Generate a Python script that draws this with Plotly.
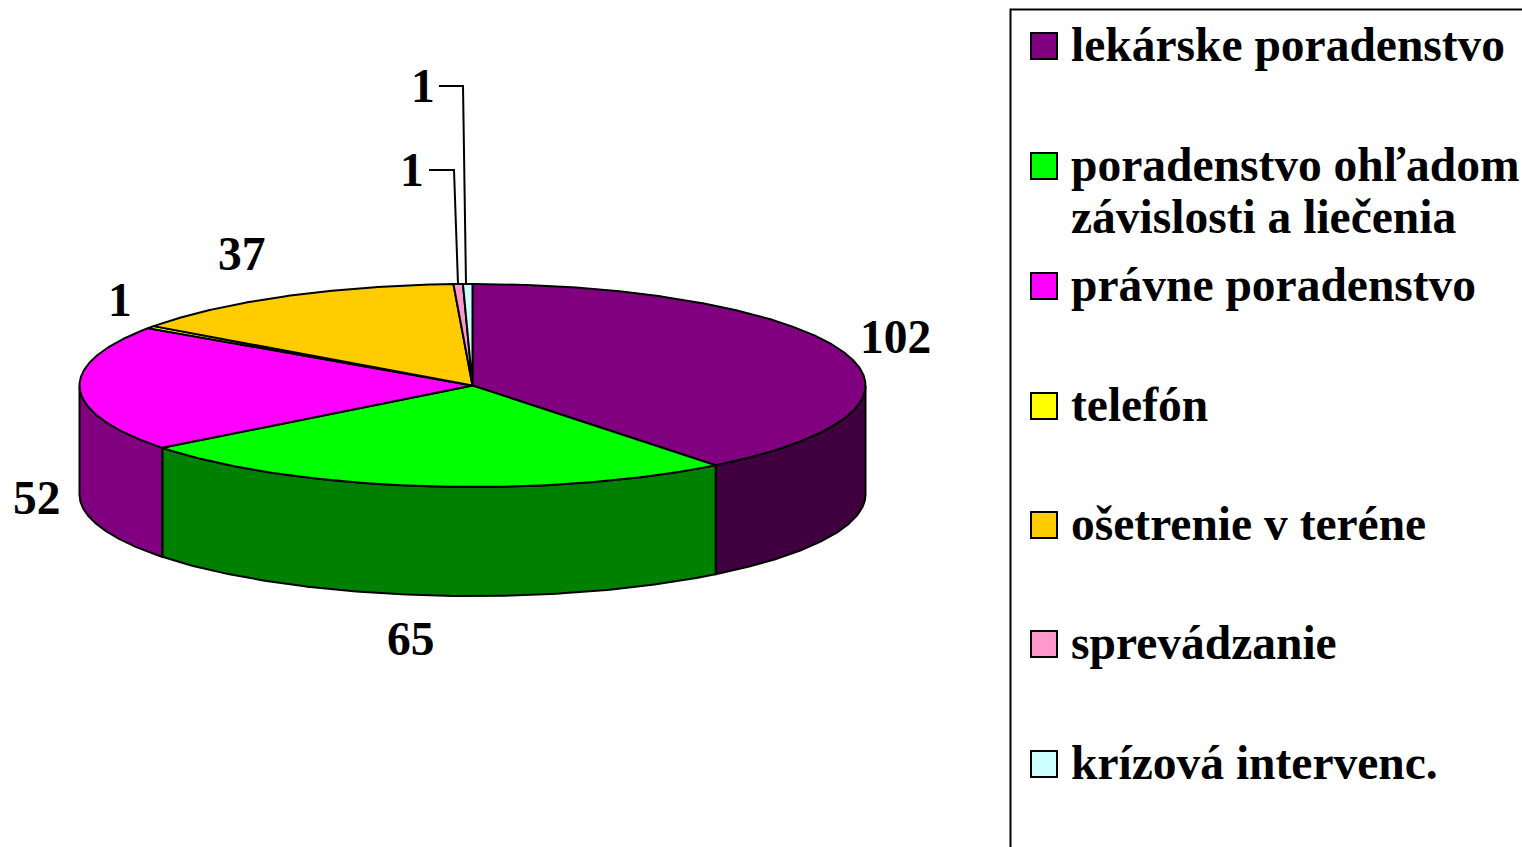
import numpy as np
import plotly.graph_objects as go

# Data
categories = ["lekárske poradenstvo", "poradenstvo ohľadom<br>závislosti a liečenia", "právne poradenstvo",
              "telefón", "ošetrenie v teréne", "sprevádzanie", "krízová intervenc."]
values = [102, 65, 52, 1, 37, 1, 1]
top_colors = ["#800080", "#00FF00", "#FF00FF", "#FFFF00", "#FFCC00", "#FF99CC", "#CCFFFF"]
side_colors = ["#400040", "#008000", "#800080", "#808000", "#806600", "#804D66", "#668080"]

# Layout geometry of the pseudo-3D disc (pixel-valued axes)
CX, CY, RX, RY, DEPTH = 472.5, 385.5, 393, 101.5, 109
FONT = "Liberation Serif"
FS = 47.5
LW = 2

def ex(a):
    return CX + RX * np.sin(a)

def ey(a):
    return CY - RY * np.cos(a)

fig = go.Figure()
fractions = np.cumsum([0] + values) / sum(values)
angles = fractions * 2 * np.pi

# Side walls of the visible (front) half
for i, v in enumerate(values):
    a0, a1 = max(angles[i], np.pi / 2), min(angles[i + 1], 3 * np.pi / 2)
    if a1 <= a0:
        continue
    t = np.linspace(a0, a1, 120)
    xs = list(ex(t)) + list(ex(t[::-1])) + [ex(t[0])]
    ys = list(ey(t)) + list(ey(t[::-1]) + DEPTH) + [ey(t[0])]
    fig.add_trace(go.Scatter(x=xs, y=ys, mode="lines", fill="toself", fillcolor=side_colors[i],
                             line=dict(color="black", width=LW), hoverinfo="skip", showlegend=False))

# Top slices
for i, v in enumerate(values):
    t = np.linspace(angles[i], angles[i + 1], max(4, int(v * 4)))
    xs = [CX] + list(ex(t)) + [CX]
    ys = [CY] + list(ey(t)) + [CY]
    fig.add_trace(go.Scatter(x=xs, y=ys, mode="lines", fill="toself", fillcolor=top_colors[i],
                             line=dict(color="black", width=LW), hoverinfo="skip", showlegend=False))

# Leader lines
leader_x = [[429, 454, 458], [439, 463, 466]]
leader_y = [[170, 170, 284], [86, 86, 284]]
for lx, ly in zip(leader_x, leader_y):
    fig.add_trace(go.Scatter(x=lx, y=ly, mode="lines", line=dict(color="black", width=LW),
                             hoverinfo="skip", showlegend=False))

# Value labels
label_x = [895, 410.5, 37, 120, 242, 412, 423]
label_y = [337, 639, 498, 300, 254, 170, 86]
annotations = []
for v, x, y in zip(values, label_x, label_y):
    annotations.append(dict(x=x, y=y, xref="x", yref="y", text=f"<b>{v}</b>", showarrow=False,
                            xanchor="center", yanchor="middle",
                            font=dict(family=FONT, size=FS, color="black")))

# Legend
legend_y = [46, 166, 286, 406, 525, 644, 764]
shapes = [dict(type="rect", xref="x", yref="y", x0=1010.5, x1=1540, y0=9.5, y1=870,
               line=dict(color="black", width=2), fillcolor="rgba(0,0,0,0)")]
for name, col, y in zip(categories, top_colors, legend_y):
    shapes.append(dict(type="rect", xref="x", yref="y", x0=1031, x1=1057, y0=y - 13, y1=y + 13,
                       line=dict(color="black", width=2), fillcolor=col))
    for k, line in enumerate(name.split("<br>")):
        annotations.append(dict(x=1070, y=y - 1 + k * 52, xref="x", yref="y", text=f"<b>{line}</b>",
                                showarrow=False, xanchor="left", yanchor="middle", align="left",
                                borderpad=0,
                                font=dict(family=FONT, size=FS, color="black")))

fig.update_layout(
    width=1522, height=847, margin=dict(l=0, r=0, t=0, b=0),
    paper_bgcolor="white", plot_bgcolor="white", showlegend=False,
    xaxis=dict(range=[0, 1522], visible=False, fixedrange=True),
    yaxis=dict(range=[847, 0], visible=False, fixedrange=True),
    annotations=annotations, shapes=shapes,
)
fig.write_html("out.html", post_script="document.body.style.margin='0';document.body.style.overflow='hidden';",
               config={"displayModeBar": False})
